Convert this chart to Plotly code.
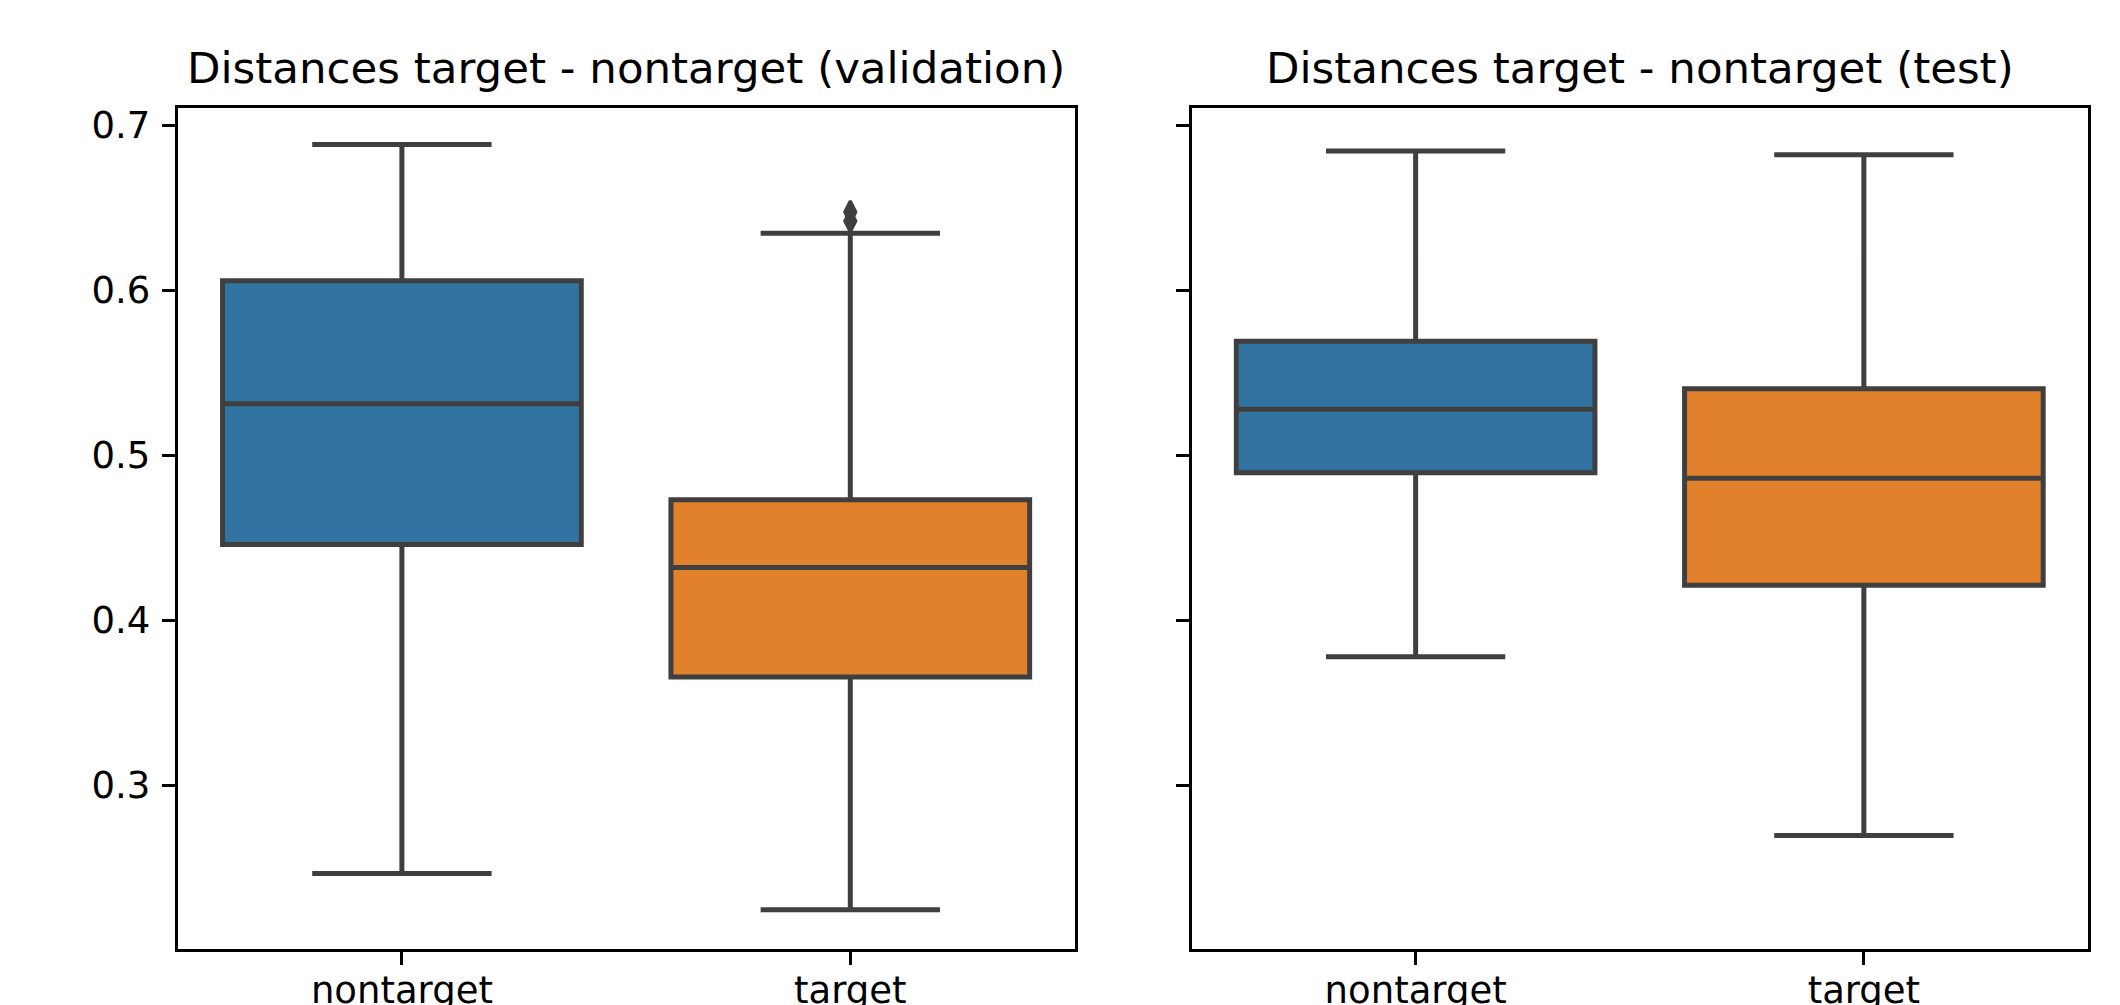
import plotly.graph_objects as go

# ---- data ----
categories = ["nontarget", "target"]
box_colors = ["#3274a1", "#e1812c"]

val_lower = [0.2467, 0.2246]
val_q1 = [0.4459, 0.3656]
val_median = [0.5311, 0.4320]
val_q3 = [0.6057, 0.4730]
val_upper = [0.6882, 0.6344]
val_outlier_x = ["target", "target"]
val_outlier_y = [0.6473, 0.6419]

test_lower = [0.3779, 0.2697]
test_q1 = [0.4893, 0.4213]
test_median = [0.5279, 0.4861]
test_q3 = [0.5690, 0.5402]
test_upper = [0.6843, 0.6820]

titles = ["Distances target - nontarget (validation)", "Distances target - nontarget (test)"]
y_ticks = [0.3, 0.4, 0.5, 0.6, 0.7]
y_ticktext = ["0.3", "0.4", "0.5", "0.6", "0.7"]

W, H = 2120, 1005
FONT = "DejaVu Sans"
LINE = "#3f3f3f"


def px(xpage):
    return xpage / W


def py(ypage):
    return 1 - ypage / H


fig = go.Figure()


def add_boxes(xa, ya, lower, q1, med, q3, upper):
    for i, cat in enumerate(categories):
        fig.add_trace(go.Box(
            x=[cat], lowerfence=[lower[i]], q1=[q1[i]], median=[med[i]],
            q3=[q3[i]], upperfence=[upper[i]],
            width=0.8, whiskerwidth=0.5,
            fillcolor=box_colors[i],
            line=dict(color=LINE, width=5),
            boxpoints=False, showlegend=False,
            xaxis=xa, yaxis=ya,
        ))


add_boxes("x", "y", val_lower, val_q1, val_median, val_q3, val_upper)
add_boxes("x2", "y2", test_lower, test_q1, test_median, test_q3, test_upper)

fig.add_trace(go.Scatter(
    x=val_outlier_x, y=val_outlier_y, mode="markers",
    marker=dict(symbol="diamond-tall", size=16, color=LINE,
                line=dict(color=LINE, width=3)),
    showlegend=False, xaxis="x", yaxis="y",
))

dom1 = [px(177.7), px(1074.5)]
dom2 = [px(1191.5), px(2088)]
ydom = [py(949), py(108)]
yrange = [0.2009, 0.7103]

axis_common = dict(
    showline=True, mirror=True, linecolor="black", linewidth=3,
    ticks="outside", ticklen=13, tickwidth=3, tickcolor="black",
    showgrid=False, zeroline=False, automargin=False,
    tickfont=dict(family=FONT, size=37, color="black"),
)

fig.update_layout(
    width=W, height=H,
    margin=dict(l=0, r=0, t=0, b=0, autoexpand=False),
    paper_bgcolor="white", plot_bgcolor="white",
    font=dict(family=FONT, color="black"),
    boxmode="overlay",
    xaxis=dict(domain=dom1, anchor="y", type="category",
               categoryorder="array", categoryarray=categories,
               range=[-0.5, 1.5], ticklabelstandoff=-6, **axis_common),
    xaxis2=dict(domain=dom2, anchor="y2", type="category",
                categoryorder="array", categoryarray=categories,
                range=[-0.5, 1.5], ticklabelstandoff=-6, **axis_common),
    yaxis=dict(domain=ydom, anchor="x", range=yrange,
               tickvals=y_ticks, ticktext=y_ticktext,
               ticklabelstandoff=4, **axis_common),
    yaxis2=dict(domain=ydom, anchor="x2", range=yrange, matches="y",
                tickvals=y_ticks, showticklabels=False, **axis_common),
    annotations=[
        dict(text=titles[0], xref="paper", yref="paper",
             x=(dom1[0] + dom1[1]) / 2, y=py(94.5),
             xanchor="center", yanchor="bottom", showarrow=False,
             font=dict(family=FONT, size=43.5, color="black")),
        dict(text=titles[1], xref="paper", yref="paper",
             x=(dom2[0] + dom2[1]) / 2, y=py(94.5),
             xanchor="center", yanchor="bottom", showarrow=False,
             font=dict(family=FONT, size=43.5, color="black")),
    ],
)

page_css = (
    "document.documentElement.style.margin='0';"
    "document.documentElement.style.padding='0';"
    "document.documentElement.style.overflow='hidden';"
    "document.body.style.margin='0';"
    "document.body.style.padding='0';"
    "document.body.style.overflow='hidden';"
    "document.body.style.height='1005px';"
    "document.documentElement.style.height='1005px';"
)

fig.write_html("out.html", post_script=page_css,
               config={"displayModeBar": False})
